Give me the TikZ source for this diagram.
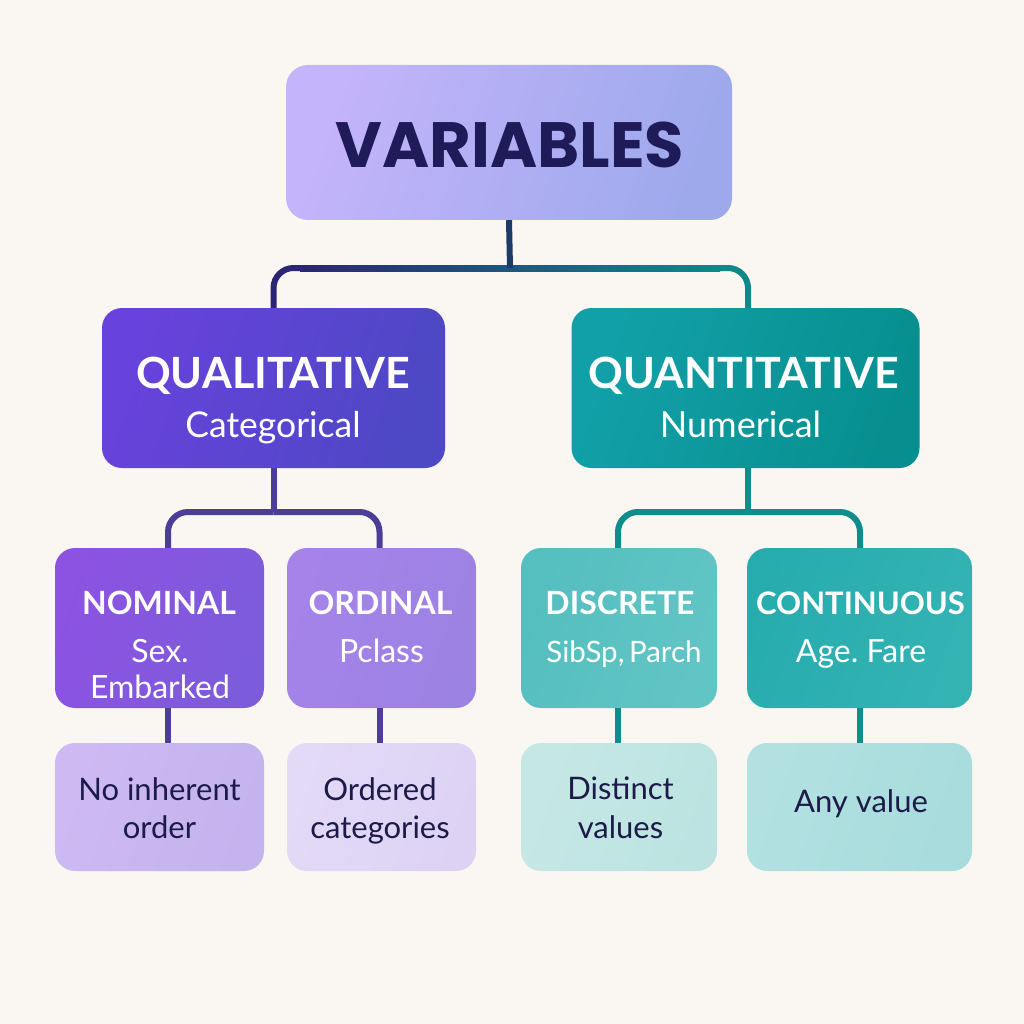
\documentclass[tikz,border=0pt]{standalone}
\usepackage{fontspec}
\setmainfont{Lato}
\newfontfamily\titlefont{Poppins}
\frenchspacing
\begin{document}
\begin{tikzpicture}[x=1pt,y=-1pt]
\definecolor{bg}{HTML}{FAF7F2}
\definecolor{varA}{HTML}{C4B4FB}
\definecolor{varB}{HTML}{9EA9EC}
\definecolor{varText}{HTML}{1F1A58}
\definecolor{qualA}{HTML}{6842DC}
\definecolor{qualB}{HTML}{4D48C4}
\definecolor{quanA}{HTML}{12A0A8}
\definecolor{quanB}{HTML}{078F8F}
\definecolor{nomA}{HTML}{8C52E2}
\definecolor{nomB}{HTML}{7C5CDA}
\definecolor{ordA}{HTML}{A583E9}
\definecolor{ordB}{HTML}{9C82E3}
\definecolor{disA}{HTML}{55BEBF}
\definecolor{disB}{HTML}{62C5C5}
\definecolor{conA}{HTML}{27ACAE}
\definecolor{conB}{HTML}{34B3B3}
\definecolor{nioA}{HTML}{CEB9F3}
\definecolor{nioB}{HTML}{C4B3EE}
\definecolor{occA}{HTML}{E3DAF7}
\definecolor{occB}{HTML}{DDD2F4}
\definecolor{dvA}{HTML}{C6E8E5}
\definecolor{dvB}{HTML}{BCE3E1}
\definecolor{avA}{HTML}{B3E1E1}
\definecolor{avB}{HTML}{A8DCDD}
\definecolor{darkText}{HTML}{1C1A48}
\definecolor{navyLine}{HTML}{2B2573}
\definecolor{stemLine}{HTML}{1E3A66}
\definecolor{tealLine}{HTML}{0F8888}
\definecolor{qualLine}{HTML}{4C3D98}
\definecolor{quanLine}{HTML}{0F8C8C}
\tikzset{
  box/.style={rectangle, rounded corners=20pt, inner sep=0pt, minimum height=160},
  lowbox/.style={rectangle, rounded corners=20pt, inner sep=0pt, minimum height=128},
  grad/.style 2 args={left color=#1, right color=#2, shading angle=70},
  link/.style={line width=6pt, rounded corners=20pt},
  head/.style={anchor=base, text=white, font=\bfseries\fontsize{#1}{#1}\selectfont},
  sub/.style={anchor=base, text=white, font=\fontsize{#1}{#1}\selectfont},
  note/.style={anchor=base, text=darkText, font=\fontsize{31}{31}\selectfont},
}
% canvas
\fill[bg] (0,0) rectangle (1024,1024);
\useasboundingbox (0,0) rectangle (1024,1024);

% boxes
\node[rectangle, rounded corners=22pt, minimum width=446, minimum height=155, grad={varA}{varB}] (var) at (509,142.5) {};
\node[box, minimum width=343, grad={qualA}{qualB}] (qual) at (273.5,388) {};
\node[box, minimum width=348, grad={quanA}{quanB}] (quan) at (745.5,388) {};
\node[box, minimum width=209, grad={nomA}{nomB}] (nom) at (159.5,628) {};
\node[box, minimum width=189, grad={ordA}{ordB}] (ord) at (381.5,628) {};
\node[box, minimum width=196, grad={disA}{disB}] (dis) at (619,628) {};
\node[box, minimum width=225, grad={conA}{conB}] (con) at (859.5,628) {};
\node[lowbox, minimum width=209, grad={nioA}{nioB}] (nio) at (159.5,807) {};
\node[lowbox, minimum width=189, grad={occA}{occB}] (occ) at (381.5,807) {};
\node[lowbox, minimum width=196, grad={dvA}{dvB}] (dv) at (619,807) {};
\node[lowbox, minimum width=225, grad={avA}{avB}] (av) at (859.5,807) {};

% junction points of the branching connectors
\coordinate (jtop) at (510,268);
\coordinate (jqual) at (273.5,512);
\coordinate (jquan) at (748,512);

% top level connector
\draw[link, navyLine] (jtop) -| (qual.north);
\draw[link, tealLine] (jtop) -| ([xshift=2.5pt]quan.north);
\shade[left color=navyLine, right color=tealLine] (300,265) rectangle (720,271);
\draw[line width=6pt, stemLine] (var.south) -- (jtop);

% qualitative branch
\draw[line width=6pt, qualLine] (qual.south) -- (jqual);
\draw[link, qualLine] (jqual) -| ([xshift=8.5pt]nom.north);
\draw[link, qualLine] (jqual) -| ([xshift=-2pt]ord.north);
\draw[line width=6pt, qualLine] ([xshift=8.5pt]nom.south) -- ([xshift=8.5pt]nio.north);
\draw[line width=6pt, qualLine] ([xshift=-2pt]ord.south) -- ([xshift=-2pt]occ.north);

% quantitative branch
\draw[line width=6pt, quanLine] ([xshift=2.5pt]quan.south) -- (jquan);
\draw[link, quanLine] (jquan) -| ([xshift=-1pt]dis.north);
\draw[link, quanLine] (jquan) -| ([xshift=0.5pt]con.north);
\draw[line width=6pt, quanLine] ([xshift=-1pt]dis.south) -- ([xshift=-1pt]dv.north);
\draw[line width=6pt, quanLine] ([xshift=0.5pt]con.south) -- ([xshift=0.5pt]av.north);

% texts
\node[anchor=base, text=varText, font=\titlefont\bfseries\fontsize{64}{64}\selectfont] (tvar) at (510,168) {VARIABLES};

\node[head=43] (tqual) at (273,388) {QUALITATIVE};
\node[sub=35.5] (tqual2) at (273,437) {Categorical};
\node[head=43] (tquan) at (743.5,388) {QUANTITATIVE};
\node[sub=36] (tquan2) at (740.5,437) {Numerical};

\node[head=32] (tnom) at (159,614) {NOMINAL};
\node[sub=32] (tnom2) at (160,662) {Sex.};
\node[sub=32] (tnom3) at (160,698) {Embarked};
\node[head=32] (tord) at (380.5,614) {ORDINAL};
\node[sub=32] (tord2) at (381.5,662) {Pclass};
\node[head=32] (tdis) at (620,614) {DISCRETE};
\node[sub=29.5] (tdis2) at (624,662) {SibSp,\kern-0.1em\ Parch};
\node[head=31] (tcon) at (860.5,614) {CONTINUOUS};
\node[sub=32] (tcon2) at (861,662) {Age. Fare};

\node[note] (tnio) at (159.5,800) {No inherent};
\node[note] (tnio2) at (159.5,838) {order};
\node[note] (tocc) at (380,800) {Ordered};
\node[note] (tocc2) at (380,838) {categories};
\node[note] (tdv) at (620.5,799) {Distinct};
\node[note] (tdv2) at (620.5,838) {values};
\node[note] (tav) at (861,812) {Any value};
\end{tikzpicture}
\end{document}
